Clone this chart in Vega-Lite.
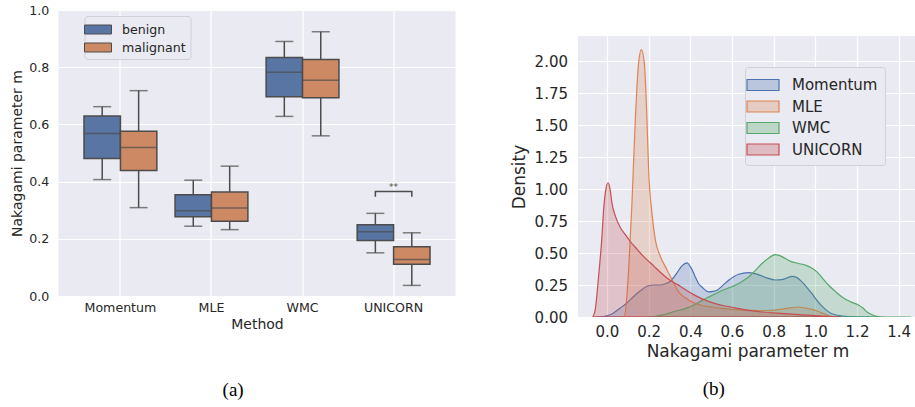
{
  "$schema": "https://vega.github.io/schema/vega-lite/v6.json",
  "background": "white",
  "padding": {"left": 10.5, "top": 4, "right": 0, "bottom": 0},
  "spacing": 54.5,
  "resolve": {"scale": {"color": "independent", "stroke": "independent", "x": "independent", "y": "independent"}, "legend": {"color": "independent", "stroke": "independent"}},
  "config": {
    "font": "DejaVu Sans",
    "view": {"fill": "#eaeaf2", "stroke": null},
    "axis": {"domain": false, "ticks": false, "grid": true, "gridColor": "#ffffff", "gridWidth": 1.2, "labelColor": "#262626", "titleColor": "#262626", "titleFontWeight": "normal", "labelFont": "DejaVu Sans", "titleFont": "DejaVu Sans"},
    "legend": {"labelFont": "DejaVu Sans", "labelColor": "#262626"},
    "title": {"font": "Liberation Serif", "fontWeight": "normal", "color": "#000000", "anchor": "middle"}
  },
  "hconcat": [
    {
      "width": 397,
      "height": 286,
      "title": {"text": "(a)", "orient": "bottom", "frame": "bounds", "fontSize": 19, "offset": 50},
      "data": {"values": [
        {"method": "Momentum", "group": "benign", "lo": 0.407, "q1": 0.481, "med": 0.568, "q3": 0.629, "hi": 0.662},
        {"method": "Momentum", "group": "malignant", "lo": 0.309, "q1": 0.439, "med": 0.519, "q3": 0.576, "hi": 0.718},
        {"method": "MLE", "group": "benign", "lo": 0.244, "q1": 0.277, "med": 0.298, "q3": 0.354, "hi": 0.405},
        {"method": "MLE", "group": "malignant", "lo": 0.232, "q1": 0.261, "med": 0.308, "q3": 0.364, "hi": 0.454},
        {"method": "WMC", "group": "benign", "lo": 0.628, "q1": 0.697, "med": 0.782, "q3": 0.834, "hi": 0.890},
        {"method": "WMC", "group": "malignant", "lo": 0.560, "q1": 0.693, "med": 0.754, "q3": 0.827, "hi": 0.924},
        {"method": "UNICORN", "group": "benign", "lo": 0.151, "q1": 0.194, "med": 0.225, "q3": 0.249, "hi": 0.289},
        {"method": "UNICORN", "group": "malignant", "lo": 0.037, "q1": 0.111, "med": 0.128, "q3": 0.172, "hi": 0.221}
      ]},
      "encoding": {
        "x": {"field": "method", "type": "nominal", "sort": ["Momentum", "MLE", "WMC", "UNICORN"],
              "scale": {"paddingInner": 0.2, "paddingOuter": 0.28},
              "axis": {"title": "Method", "labelAngle": 0, "bandPosition": 0.5, "labelFontSize": 12.6, "titleFontSize": 14, "labelPadding": 5.5, "titlePadding": 3}}
      },
      "layer": [
        {
          "mark": {"type": "rule", "stroke": "#4c4c4c", "strokeWidth": 1.5},
          "encoding": {
            "xOffset": {"field": "group", "type": "nominal", "sort": ["benign", "malignant"], "scale": {"paddingInner": 0, "paddingOuter": 0}},
            "y": {"field": "lo", "type": "quantitative", "scale": {"domain": [0, 1], "nice": false},
                  "axis": {"title": "Nakagami parameter m", "values": [0, 0.2, 0.4, 0.6, 0.8, 1.0], "format": ".1f", "labelFontSize": 12.6, "titleFontSize": 14, "labelPadding": 9.7, "titlePadding": 4}},
            "y2": {"field": "hi"}
          }
        },
        {
          "mark": {"type": "tick", "color": "#4c4c4c", "size": 18, "thickness": 1.5},
          "encoding": {
            "xOffset": {"field": "group", "type": "nominal", "sort": ["benign", "malignant"]},
            "y": {"field": "lo", "type": "quantitative"}
          }
        },
        {
          "mark": {"type": "tick", "color": "#4c4c4c", "size": 18, "thickness": 1.5},
          "encoding": {
            "xOffset": {"field": "group", "type": "nominal", "sort": ["benign", "malignant"]},
            "y": {"field": "hi", "type": "quantitative"}
          }
        },
        {
          "mark": {"type": "bar", "stroke": "#4c4c4c", "strokeWidth": 1.5},
          "encoding": {
            "xOffset": {"field": "group", "type": "nominal", "sort": ["benign", "malignant"]},
            "y": {"field": "q1", "type": "quantitative"},
            "y2": {"field": "q3"},
            "color": {"field": "group", "type": "nominal",
                      "scale": {"domain": ["benign", "malignant"], "range": ["#5875a3", "#cc8963"]},
                      "legend": {"orient": "none", "legendX": 26, "legendY": 6, "title": null, "labelFontSize": 12.6,
                                 "symbolType": "M-1.5,-0.5H1.5V0.5H-1.5Z", "symbolSize": 324, "rowPadding": 1, "labelOffset": 14.5,
                                 "padding": 4, "fillColor": "#eaeaf2", "strokeColor": "#d0d0d8", "cornerRadius": 3,
                                 "symbolStrokeColor": "#4c4c4c", "symbolStrokeWidth": 1, "symbolOpacity": 1}}
          }
        },
        {
          "mark": {"type": "tick", "color": "#4c4c4c", "size": 36.4, "thickness": 1.5},
          "encoding": {
            "xOffset": {"field": "group", "type": "nominal", "sort": ["benign", "malignant"]},
            "y": {"field": "med", "type": "quantitative"}
          }
        },
        {
          "data": {"values": [
            {"method": "UNICORN", "group": "benign", "v": 0.347, "k": 1},
            {"method": "UNICORN", "group": "benign", "v": 0.365, "k": 2},
            {"method": "UNICORN", "group": "malignant", "v": 0.365, "k": 3},
            {"method": "UNICORN", "group": "malignant", "v": 0.347, "k": 4}
          ]},
          "mark": {"type": "line", "stroke": "#4c4c4c", "strokeWidth": 1.5},
          "encoding": {
            "xOffset": {"field": "group", "type": "nominal", "sort": ["benign", "malignant"]},
            "y": {"field": "v", "type": "quantitative"},
            "order": {"field": "k", "type": "quantitative"}
          }
        },
        {
          "data": {"values": [{"method": "UNICORN", "label": "**", "v": 0.37}]},
          "mark": {"type": "text", "fontSize": 9, "baseline": "alphabetic", "color": "#4c4c4c"},
          "encoding": {
            "y": {"field": "v", "type": "quantitative"},
            "text": {"field": "label"}
          }
        }
      ]
    },
    {
      "title": {"text": "(b)", "orient": "bottom", "frame": "bounds", "fontSize": 19, "offset": 20.5},
      "spacing": 10,
      "vconcat": [
        {
          "width": 339,
          "height": 16,
          "view": {"fill": null, "stroke": null},
          "data": {"values": [{"t": ""}]},
          "mark": {"type": "text"},
          "encoding": {"text": {"field": "t"}}
        },
        {
          "width": 339,
          "height": 281,
          "data": {"values": [
            {"method": "Momentum", "m": -0.06, "d": 0},
            {"method": "Momentum", "m": -0.02, "d": 0.003},
            {"method": "Momentum", "m": 0.0, "d": 0.01},
            {"method": "Momentum", "m": 0.03, "d": 0.03},
            {"method": "Momentum", "m": 0.064, "d": 0.07},
            {"method": "Momentum", "m": 0.1, "d": 0.115},
            {"method": "Momentum", "m": 0.128, "d": 0.16},
            {"method": "Momentum", "m": 0.16, "d": 0.205},
            {"method": "Momentum", "m": 0.192, "d": 0.24},
            {"method": "Momentum", "m": 0.23, "d": 0.25},
            {"method": "Momentum", "m": 0.256, "d": 0.25},
            {"method": "Momentum", "m": 0.28, "d": 0.26},
            {"method": "Momentum", "m": 0.304, "d": 0.28},
            {"method": "Momentum", "m": 0.336, "d": 0.345},
            {"method": "Momentum", "m": 0.36, "d": 0.4},
            {"method": "Momentum", "m": 0.384, "d": 0.423},
            {"method": "Momentum", "m": 0.405, "d": 0.38},
            {"method": "Momentum", "m": 0.424, "d": 0.313},
            {"method": "Momentum", "m": 0.44, "d": 0.26},
            {"method": "Momentum", "m": 0.456, "d": 0.235},
            {"method": "Momentum", "m": 0.488, "d": 0.196},
            {"method": "Momentum", "m": 0.51, "d": 0.2},
            {"method": "Momentum", "m": 0.528, "d": 0.209},
            {"method": "Momentum", "m": 0.555, "d": 0.245},
            {"method": "Momentum", "m": 0.584, "d": 0.287},
            {"method": "Momentum", "m": 0.632, "d": 0.334},
            {"method": "Momentum", "m": 0.68, "d": 0.347},
            {"method": "Momentum", "m": 0.72, "d": 0.335},
            {"method": "Momentum", "m": 0.76, "d": 0.31},
            {"method": "Momentum", "m": 0.808, "d": 0.289},
            {"method": "Momentum", "m": 0.84, "d": 0.292},
            {"method": "Momentum", "m": 0.888, "d": 0.318},
            {"method": "Momentum", "m": 0.91, "d": 0.31},
            {"method": "Momentum", "m": 0.936, "d": 0.274},
            {"method": "Momentum", "m": 0.96, "d": 0.23},
            {"method": "Momentum", "m": 0.984, "d": 0.183},
            {"method": "Momentum", "m": 1.008, "d": 0.13},
            {"method": "Momentum", "m": 1.032, "d": 0.085},
            {"method": "Momentum", "m": 1.056, "d": 0.05},
            {"method": "Momentum", "m": 1.08, "d": 0.025},
            {"method": "Momentum", "m": 1.128, "d": 0.008},
            {"method": "Momentum", "m": 1.2, "d": 0.001},
            {"method": "Momentum", "m": 1.29, "d": 0},
            {"method": "MLE", "m": 0.06, "d": 0},
            {"method": "MLE", "m": 0.083, "d": 0.005},
            {"method": "MLE", "m": 0.095, "d": 0.15},
            {"method": "MLE", "m": 0.104, "d": 0.37},
            {"method": "MLE", "m": 0.12, "d": 0.89},
            {"method": "MLE", "m": 0.136, "d": 1.54},
            {"method": "MLE", "m": 0.152, "d": 1.99},
            {"method": "MLE", "m": 0.165, "d": 2.09},
            {"method": "MLE", "m": 0.179, "d": 1.99},
            {"method": "MLE", "m": 0.192, "d": 1.54},
            {"method": "MLE", "m": 0.2, "d": 1.15},
            {"method": "MLE", "m": 0.216, "d": 0.81},
            {"method": "MLE", "m": 0.232, "d": 0.605},
            {"method": "MLE", "m": 0.256, "d": 0.475},
            {"method": "MLE", "m": 0.288, "d": 0.37},
            {"method": "MLE", "m": 0.32, "d": 0.266},
            {"method": "MLE", "m": 0.344, "d": 0.196},
            {"method": "MLE", "m": 0.376, "d": 0.15},
            {"method": "MLE", "m": 0.408, "d": 0.117},
            {"method": "MLE", "m": 0.456, "d": 0.09},
            {"method": "MLE", "m": 0.504, "d": 0.078},
            {"method": "MLE", "m": 0.56, "d": 0.065},
            {"method": "MLE", "m": 0.616, "d": 0.058},
            {"method": "MLE", "m": 0.7, "d": 0.052},
            {"method": "MLE", "m": 0.76, "d": 0.05},
            {"method": "MLE", "m": 0.824, "d": 0.057},
            {"method": "MLE", "m": 0.87, "d": 0.07},
            {"method": "MLE", "m": 0.92, "d": 0.078},
            {"method": "MLE", "m": 0.96, "d": 0.068},
            {"method": "MLE", "m": 1.0, "d": 0.052},
            {"method": "MLE", "m": 1.04, "d": 0.026},
            {"method": "MLE", "m": 1.064, "d": 0.01},
            {"method": "MLE", "m": 1.1, "d": 0},
            {"method": "WMC", "m": 0.2, "d": 0},
            {"method": "WMC", "m": 0.232, "d": 0.005},
            {"method": "WMC", "m": 0.28, "d": 0.02},
            {"method": "WMC", "m": 0.328, "d": 0.045},
            {"method": "WMC", "m": 0.376, "d": 0.065},
            {"method": "WMC", "m": 0.424, "d": 0.1},
            {"method": "WMC", "m": 0.456, "d": 0.13},
            {"method": "WMC", "m": 0.5, "d": 0.165},
            {"method": "WMC", "m": 0.536, "d": 0.196},
            {"method": "WMC", "m": 0.58, "d": 0.225},
            {"method": "WMC", "m": 0.616, "d": 0.248},
            {"method": "WMC", "m": 0.65, "d": 0.28},
            {"method": "WMC", "m": 0.68, "d": 0.313},
            {"method": "WMC", "m": 0.71, "d": 0.36},
            {"method": "WMC", "m": 0.744, "d": 0.418},
            {"method": "WMC", "m": 0.775, "d": 0.46},
            {"method": "WMC", "m": 0.808, "d": 0.488},
            {"method": "WMC", "m": 0.83, "d": 0.48},
            {"method": "WMC", "m": 0.856, "d": 0.457},
            {"method": "WMC", "m": 0.888, "d": 0.431},
            {"method": "WMC", "m": 0.92, "d": 0.418},
            {"method": "WMC", "m": 0.952, "d": 0.405},
            {"method": "WMC", "m": 0.98, "d": 0.385},
            {"method": "WMC", "m": 1.008, "d": 0.353},
            {"method": "WMC", "m": 1.036, "d": 0.3},
            {"method": "WMC", "m": 1.064, "d": 0.248},
            {"method": "WMC", "m": 1.096, "d": 0.2},
            {"method": "WMC", "m": 1.128, "d": 0.157},
            {"method": "WMC", "m": 1.168, "d": 0.12},
            {"method": "WMC", "m": 1.208, "d": 0.092},
            {"method": "WMC", "m": 1.23, "d": 0.068},
            {"method": "WMC", "m": 1.248, "d": 0.039},
            {"method": "WMC", "m": 1.27, "d": 0.02},
            {"method": "WMC", "m": 1.288, "d": 0.008},
            {"method": "WMC", "m": 1.336, "d": 0},
            {"method": "WMC", "m": 1.46, "d": 0},
            {"method": "UNICORN", "m": -0.068, "d": 0},
            {"method": "UNICORN", "m": -0.056, "d": 0.06},
            {"method": "UNICORN", "m": -0.04, "d": 0.32},
            {"method": "UNICORN", "m": -0.024, "d": 0.63},
            {"method": "UNICORN", "m": -0.016, "d": 0.84},
            {"method": "UNICORN", "m": -0.005, "d": 1.0},
            {"method": "UNICORN", "m": 0.005, "d": 1.049},
            {"method": "UNICORN", "m": 0.015, "d": 1.0},
            {"method": "UNICORN", "m": 0.024, "d": 0.89},
            {"method": "UNICORN", "m": 0.04, "d": 0.79},
            {"method": "UNICORN", "m": 0.064, "d": 0.7},
            {"method": "UNICORN", "m": 0.09, "d": 0.64},
            {"method": "UNICORN", "m": 0.112, "d": 0.59},
            {"method": "UNICORN", "m": 0.136, "d": 0.545},
            {"method": "UNICORN", "m": 0.16, "d": 0.5},
            {"method": "UNICORN", "m": 0.19, "d": 0.45},
            {"method": "UNICORN", "m": 0.224, "d": 0.4},
            {"method": "UNICORN", "m": 0.256, "d": 0.35},
            {"method": "UNICORN", "m": 0.288, "d": 0.305},
            {"method": "UNICORN", "m": 0.32, "d": 0.27},
            {"method": "UNICORN", "m": 0.352, "d": 0.24},
            {"method": "UNICORN", "m": 0.384, "d": 0.205},
            {"method": "UNICORN", "m": 0.416, "d": 0.175},
            {"method": "UNICORN", "m": 0.46, "d": 0.14},
            {"method": "UNICORN", "m": 0.52, "d": 0.104},
            {"method": "UNICORN", "m": 0.56, "d": 0.088},
            {"method": "UNICORN", "m": 0.616, "d": 0.072},
            {"method": "UNICORN", "m": 0.68, "d": 0.052},
            {"method": "UNICORN", "m": 0.744, "d": 0.039},
            {"method": "UNICORN", "m": 0.82, "d": 0.03},
            {"method": "UNICORN", "m": 0.904, "d": 0.02},
            {"method": "UNICORN", "m": 1.0, "d": 0.01},
            {"method": "UNICORN", "m": 1.064, "d": 0.005},
            {"method": "UNICORN", "m": 1.12, "d": 0}
          ]},
          "mark": {"type": "area", "fillOpacity": 0.25, "strokeWidth": 1.2, "interpolate": "monotone", "clip": true},
          "encoding": {
            "x": {"field": "m", "type": "quantitative", "scale": {"domain": [-0.139, 1.488], "nice": false, "zero": false},
                  "axis": {"title": "Nakagami parameter m", "values": [0, 0.2, 0.4, 0.6, 0.8, 1.0, 1.2, 1.4], "format": ".1f", "labelFontSize": 15, "titleFontSize": 17, "labelPadding": 7, "titlePadding": 4}},
            "y": {"field": "d", "type": "quantitative", "stack": null, "scale": {"domain": [0, 2.196], "nice": false},
                  "axis": {"title": "Density", "values": [0, 0.25, 0.5, 0.75, 1.0, 1.25, 1.5, 1.75, 2.0], "format": ".2f", "labelFontSize": 15, "titleFontSize": 17, "labelPadding": 10.5, "titlePadding": 5.5}},
            "color": {"field": "method", "type": "nominal", "sort": ["Momentum", "MLE", "WMC", "UNICORN"],
                      "scale": {"domain": ["Momentum", "MLE", "WMC", "UNICORN"], "range": ["#4c72b0", "#dd8452", "#55a868", "#c44e52"]},
                      "legend": {"orient": "none", "legendX": 167, "legendY": 57, "title": null, "labelFontSize": 15,
                                 "symbolType": "M-1.6,-0.55H1.6V0.55H-1.6Z", "symbolSize": 400, "rowPadding": 2.5, "labelOffset": 18,
                                 "padding": 7, "fillColor": "#eaeaf2", "strokeColor": "#d0d0d8", "cornerRadius": 3,
                                 "symbolStrokeWidth": 1.2,
                                 "encode": {"symbols": {"update": {"fillOpacity": {"value": 0.3}, "strokeOpacity": {"value": 1}}}}}},
            "stroke": {"field": "method", "type": "nominal", "sort": ["Momentum", "MLE", "WMC", "UNICORN"],
                       "scale": {"domain": ["Momentum", "MLE", "WMC", "UNICORN"], "range": ["#4c72b0", "#dd8452", "#55a868", "#c44e52"]},
                       "legend": {"orient": "none", "legendX": 167, "legendY": 57, "title": null, "labelFontSize": 15,
                                 "symbolType": "M-1.6,-0.55H1.6V0.55H-1.6Z", "symbolSize": 400, "rowPadding": 2.5, "labelOffset": 18,
                                 "padding": 7, "fillColor": "#eaeaf2", "strokeColor": "#d0d0d8", "cornerRadius": 3,
                                 "symbolStrokeWidth": 1.2,
                                 "encode": {"symbols": {"update": {"fillOpacity": {"value": 0.3}, "strokeOpacity": {"value": 1}}}}}}
          }
        }
      ]
    }
  ]
}
